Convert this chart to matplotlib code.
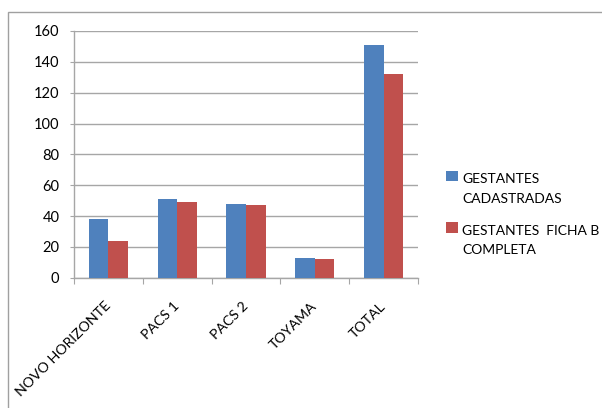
import numpy as np
import matplotlib.pyplot as plt
from matplotlib.patches import Rectangle

# =====================================================
# Data
# =====================================================

categories = ["NOVO HORIZONTE", "PACS 1", "PACS 2", "TOYAMA", "TOTAL"]
cadastradas = [38, 51, 48, 13, 151]
ficha_b = [24, 49, 47, 12, 132]
series_labels = ["GESTANTES\nCADASTRADAS", "GESTANTES  FICHA B\nCOMPLETA"]

BLUE = "#4F81BD"
RED = "#C0504D"
GRID = "#a6a6a6"

plt.rcParams["font.family"] = ["Lato", "DejaVu Sans"]

# =====================================================
# Figure
# =====================================================

fig = plt.figure(figsize=(6.02, 4.08), dpi=100)
ax = fig.add_axes([74 / 602, 1 - 277.7 / 408, 344 / 602, 246.7 / 408])

# outer chart border (only left/top visible in the image)
fig.add_artist(Rectangle((8 / 602, -0.2), 1.2, 1.2 - 12 / 408,
                         transform=fig.transFigure, fill=False,
                         edgecolor="#a0a0a0", linewidth=1.0))

x = np.arange(len(categories))
w = 1 / 3.5

ax.bar(x - w / 2, cadastradas, w, color=BLUE, label=series_labels[0], zorder=3)
ax.bar(x + w / 2, ficha_b, w, color=RED, label=series_labels[1], zorder=3)

ax.set_xlim(-0.5, len(categories) - 0.5)
ax.set_ylim(0, 160)
ax.set_yticks(range(0, 161, 20))
ax.yaxis.grid(True, color=GRID, linewidth=1.0, zorder=0)

ax.set_xticks(np.arange(-0.5, len(categories), 1.0))
ax.set_xticklabels([])
ax.set_xticks(x, minor=True)
ax.set_xticklabels(categories, minor=True, rotation=45, ha="right",
                   va="center", rotation_mode="anchor")

ax.tick_params(axis="y", direction="out", length=3, color=GRID,
               labelsize=10.5, pad=7.5)
ax.tick_params(axis="x", which="major", direction="out", length=4,
               color=GRID)
ax.tick_params(axis="x", which="minor", length=0, labelsize=10.2, pad=19)

for side in ["top", "right"]:
    ax.spines[side].set_visible(False)
for side in ["left", "bottom"]:
    ax.spines[side].set_color(GRID)
    ax.spines[side].set_linewidth(1.0)

leg = ax.legend(loc="upper left", bbox_to_anchor=(1.045, 0.474),
                frameon=False, fontsize=10, handlelength=0.85,
                handleheight=0.8, handletextpad=0.3, labelspacing=1.45)
for t in leg.get_texts():
    t.set_linespacing(1.75)
# put the colour square next to the first line of each label
for h in leg.legend_handles:
    h.set_y(h.get_y() + 9.5)

fig.savefig("out.png", dpi=100)
